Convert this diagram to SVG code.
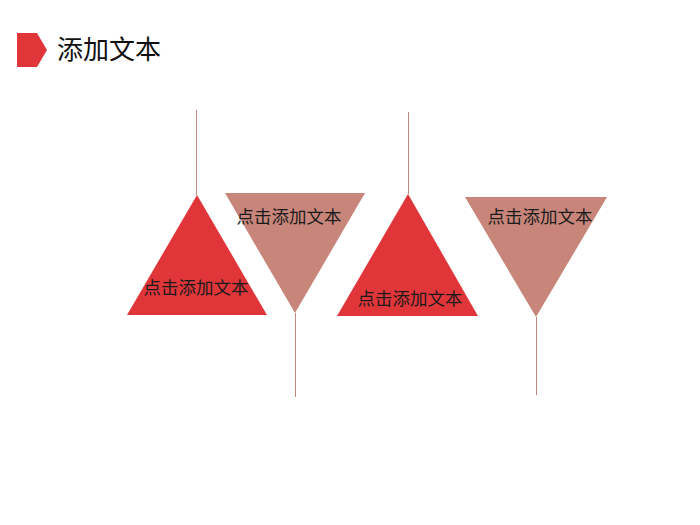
<svg xmlns="http://www.w3.org/2000/svg" width="700" height="525" viewBox="0 0 700 525">
<style>
.red{fill:#E0363A}
.brown{fill:#C8867A}
.line{stroke:#C08A80;stroke-width:1;fill:none}
.lbl{font-family:"Microsoft YaHei","Noto Sans CJK SC",sans-serif;font-size:17.5px;fill:#1a1a1a;text-anchor:middle}
.title{font-family:"Microsoft YaHei","Noto Sans CJK SC",sans-serif;font-size:26px;fill:#111}
</style>
<rect width="700" height="525" fill="#fff"/>
<g id="header">
<polygon class="red" points="17,33 37,33 47,50 37,67 17,67"/>
<text class="title" x="57" y="59">添加文本</text>
</g>
<g id="connectors">
<line class="line" x1="196.5" y1="110" x2="196.5" y2="195"/>
<line class="line" x1="295.5" y1="313" x2="295.5" y2="397"/>
<line class="line" x1="408.5" y1="112" x2="408.5" y2="194"/>
<line class="line" x1="536.5" y1="317" x2="536.5" y2="395"/>
</g>
<g id="node1">
<polygon class="red" points="197,195 267,315 127,315"/>
<text class="lbl" x="196" y="294">点击添加文本</text>
</g>
<g id="node2">
<polygon class="brown" points="225,193 365,193 295,313"/>
<text class="lbl" x="289" y="223">点击添加文本</text>
</g>
<g id="node3">
<polygon class="red" points="408,194 478,316 337,316"/>
<text class="lbl" x="410" y="305">点击添加文本</text>
</g>
<g id="node4">
<polygon class="brown" points="465,197 607,197 536,317"/>
<text class="lbl" x="540" y="223">点击添加文本</text>
</g>
</svg>
